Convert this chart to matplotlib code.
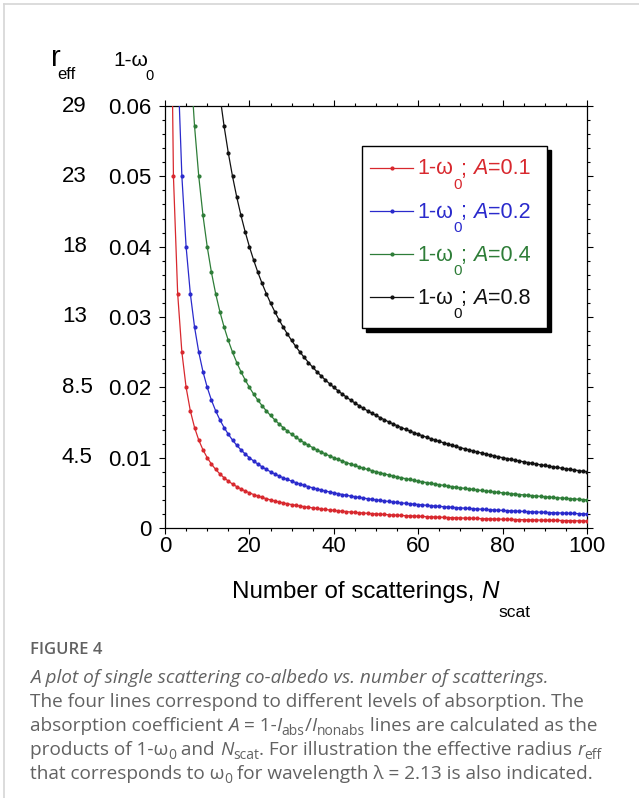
import numpy as np
import matplotlib
matplotlib.use("Agg")
import matplotlib.pyplot as plt
import matplotlib.transforms as mtransforms
from matplotlib.patches import Rectangle
from matplotlib.lines import Line2D
from matplotlib.ticker import MultipleLocator

# ---- data -------------------------------------------------------------
absorption = [0.1, 0.2, 0.4, 0.8]                 # absorption coefficient A
line_colors = ["#d8282e", "#2a2acc", "#2e7d38", "#111111"]
n_scat = np.arange(1, 101)                       # number of scatterings

x_ticks = [0, 20, 40, 60, 80, 100]
coalbedo_ticks = [0, 0.01, 0.02, 0.03, 0.04, 0.05, 0.06]
coalbedo_labels = ["0", "0.01", "0.02", "0.03", "0.04", "0.05", "0.06"]
reff_labels = ["", "4.5", "8.5", "13", "18", "23", "29"]   # effective radius

caption_title = "FIGURE 4"

# ---- figure -----------------------------------------------------------
W, H = 639, 798
fig = plt.figure(figsize=(W / 100, H / 100), dpi=100)
plt.rcParams["font.family"] = ["Liberation Sans", "DejaVu Sans"]


def fx(px):
    return px / W


def fy(py):
    return 1 - py / H


# light frame of the panel
fig.add_artist(Line2D([fx(4), fx(4)], [0, fy(4)], color="#d6d6d6", lw=1.2))
fig.add_artist(Line2D([fx(4), 1], [fy(4), fy(4)], color="#d6d6d6", lw=1.2))

ax = fig.add_axes([fx(165), fy(528), 422 / W, 422 / H])

# co-albedo 1 - w0 = A / N_scat for each absorption level
for a, c in zip(absorption, line_colors):
    ax.plot(n_scat, a / n_scat, color=c, lw=0.9, marker="o", ms=2.0,
            mfc=c, mec=c, zorder=3)

ax.set_xlim(0, 100)
ax.set_ylim(0, 0.06)
ax.set_xticks(x_ticks)
ax.set_xticklabels([str(t) for t in x_ticks])
ax.xaxis.set_minor_locator(MultipleLocator(5))
ax.set_yticks(coalbedo_ticks)
ax.set_yticklabels(coalbedo_labels)
ax.yaxis.set_minor_locator(MultipleLocator(0.002))
for s in ax.spines.values():
    s.set_linewidth(0.9)
ax.tick_params(which="both", direction="out", top=True, right=True,
               width=0.8, colors="black")
ax.tick_params(which="major", length=4.5)
ax.tick_params(which="minor", length=2.5)
ax.tick_params(axis="x", labelsize=16, pad=1)
ax.tick_params(axis="y", labelsize=16, pad=5)

# effective-radius column next to the co-albedo ticks
blend = mtransforms.blended_transform_factory(fig.transFigure, ax.transData)
for val, lab in zip(coalbedo_ticks, reff_labels):
    fig.text(fx(62), val, lab, transform=blend, ha="left", va="center",
             fontsize=16)

# column headers
fig.text(fx(51), fy(66), "r", fontsize=21, ha="left", va="baseline")
fig.text(fx(57), fy(79), "eff", fontsize=12, ha="left", va="baseline")
fig.text(fx(113), fy(66), "1-\u03c9", fontsize=15, ha="left", va="baseline")
fig.text(fx(145), fy(80), "0", fontsize=10.5, ha="left", va="baseline")


def rich(x, y, parts, **common):
    """Write text pieces one after another; each piece is
    (text, properties, vertical offset in points)."""
    t0, kw0, _ = parts[0]
    base = fig.text(x, y, t0, ha="left", va="baseline", **{**common, **kw0})
    prev = base
    for txt, kw, dy in parts[1:]:
        prev = ax.annotate(txt, xy=(1, 0), xycoords=(prev, base),
                           xytext=(0, dy), textcoords="offset points",
                           ha="left", va="bottom", annotation_clip=False,
                           **{**common, **kw})
    return base


# x-axis title
rich(fx(232), fy(598), [("Number of scatterings, ", {}, 0),
                        ("N", {"style": "italic"}, 0),
                        ("scat", {"fontsize": 12.5}, -12)],
     fontsize=17.4, color="black")

# legend
lx0, lx1 = (362 - 165) / 422, (547 - 165) / 422
ly0, ly1 = (528 - 328) / 422, (528 - 146) / 422
shadow = mtransforms.offset_copy(ax.transAxes, fig=fig, x=3.5, y=-3.5,
                                 units="dots")
ax.add_patch(Rectangle((lx0, ly0), lx1 - lx0, ly1 - ly0, transform=shadow,
                       facecolor="black", edgecolor="black", lw=1,
                       zorder=5, clip_on=False))
ax.add_patch(Rectangle((lx0, ly0), lx1 - lx0, ly1 - ly0,
                       transform=ax.transAxes, facecolor="white",
                       edgecolor="black", lw=1, zorder=6, clip_on=False))
row_y = [168, 211, 254, 297]
for a, c, ry in zip(absorption, line_colors, row_y):
    yy = (528 - ry) / 422
    ax.plot([(370 - 165) / 422, (413 - 165) / 422], [yy, yy],
            transform=ax.transAxes, color=c, lw=0.9, zorder=7,
            clip_on=False)
    ax.plot([(392 - 165) / 422], [yy], transform=ax.transAxes, color=c,
            marker="o", ms=2.0, zorder=7, clip_on=False)
    rich(fx(417), fy(ry + 6.5),
         [("1-\u03c9", {}, 0),
          ("0", {"fontsize": 11}, -9),
          ("; ", {}, 0),
          ("A", {"style": "italic"}, 0),
          ("=%g" % a, {}, 0)],
         fontsize=15.5, color=c, zorder=8)

# caption
cap_color = "#626262"
cap = dict(family=["Open Sans", "DejaVu Sans"], fontsize=13.7, color=cap_color)
sub = {"fontsize": 10}
fig.text(fx(30), fy(654), caption_title, ha="left", va="baseline",
         family=["Open Sans"], fontsize=12, color=cap_color,
         fontweight="semibold")
rich(fx(30), fy(683), [("A plot of single scattering co-albedo vs. "
                        "number of scatterings.", {"style": "italic"}, 0)],
     **cap)
rich(fx(30), fy(707), [("The four lines correspond to different levels "
                        "of absorption. The", {}, 0)], **cap)
rich(fx(30), fy(731), [("absorption coefficient ", {}, 0),
                       ("A", {"style": "italic"}, 0),
                       (" = 1-", {}, 0),
                       ("I", {"style": "italic"}, 0),
                       ("abs", sub, -3),
                       ("/", {}, 0),
                       ("I", {"style": "italic"}, 0),
                       ("nonabs", sub, -3),
                       (" lines are calculated as the", {}, 0)], **cap)
rich(fx(30), fy(755), [("products of 1-\u03c9", {}, 0),
                       ("0", sub, -3),
                       (" and ", {}, 0),
                       ("N", {"style": "italic"}, 0),
                       ("scat", sub, -3),
                       (". For illustration the effective radius ", {}, 0),
                       ("r", {"style": "italic"}, 0),
                       ("eff", sub, -3)], **cap)
rich(fx(30), fy(779), [("that corresponds to \u03c9", {}, 0),
                       ("0", sub, -3),
                       (" for wavelength \u03bb = 2.13 is also indicated.",
                        {}, 0)], **cap)

fig.savefig("out.png", dpi=100)
